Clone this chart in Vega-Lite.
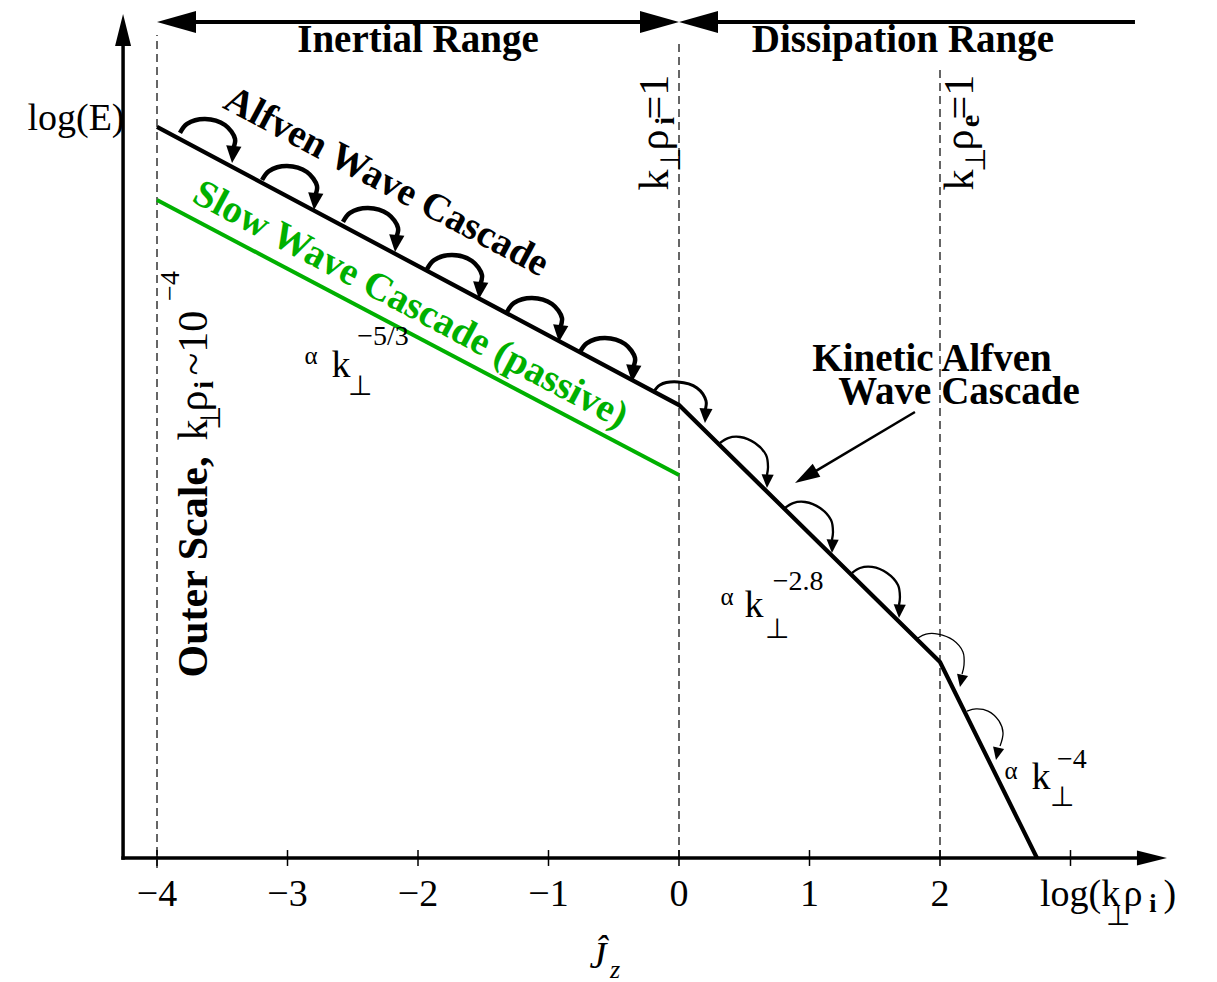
{
  "$schema": "https://vega.github.io/schema/vega-lite/v6.json",
  "width": 1217,
  "height": 982,
  "autosize": {"type": "none"},
  "padding": 0,
  "background": "white",
  "config": {"view": {"stroke": null}, "text": {"font": "Liberation Serif"}},
  "datasets": {
    "guides": [
      {"x": -4, "y": -0.077, "y2": 6.307},
      {"x": 0, "y": 0, "y2": 6.268},
      {"x": 2, "y": 0, "y2": 6.038}
    ],
    "slow": [{"x": -4, "y": 5.042}, {"x": 0, "y": 2.935}],
    "spectrum": [
      {"x": -4, "y": 5.602},
      {"x": 0, "y": 3.471},
      {"x": 2, "y": 1.502},
      {"x": 2.743, "y": 0}
    ],
    "axes": [
      {"axis": "x", "x": -4.26, "y": 0, "x2": 3.55, "y2": 0},
      {"axis": "y", "x": -4.26, "y": 0, "x2": -4.26, "y2": 6.23}
    ],
    "ticks": [
      {"x": -4, "y": -0.061, "y2": 0.061},
      {"x": -3, "y": -0.061, "y2": 0.061},
      {"x": -2, "y": -0.061, "y2": 0.061},
      {"x": -1, "y": -0.061, "y2": 0.061},
      {"x": 0, "y": -0.061, "y2": 0.061},
      {"x": 1, "y": -0.061, "y2": 0.061},
      {"x": 2, "y": -0.061, "y2": 0.061},
      {"x": 3, "y": -0.061, "y2": 0.061}
    ],
    "tickLabels": [
      {"x": -4, "y": -0.37, "label": "−4"},
      {"x": -3, "y": -0.37, "label": "−3"},
      {"x": -2, "y": -0.37, "label": "−2"},
      {"x": -1, "y": -0.37, "label": "−1"},
      {"x": 0, "y": -0.37, "label": "0"},
      {"x": 1, "y": -0.37, "label": "1"},
      {"x": 2, "y": -0.37, "label": "2"}
    ],
    "ranges": [
      {"name": "Inertial Range", "x": -3.9, "x2": -0.1, "y": 6.406},
      {"name": "Dissipation Range", "x": 0.1, "x2": 3.494, "y": 6.406}
    ],
    "rangeHeads": [
      {"x": -4, "y": 6.406, "points": "left"},
      {"x": 0, "y": 6.406, "points": "right"},
      {"x": 0, "y": 6.406, "points": "left"}
    ],
    "axisHeads": [
      {"axis": "x", "x": 3.739, "y": 0},
      {"axis": "y", "x": -4.26, "y": 6.467}
    ],
    "cascade": [
      {"arc": 1, "stage": "inertial", "i": 0, "x": -3.824, "y": 5.556},
      {"arc": 1, "stage": "inertial", "i": 1, "x": -3.770, "y": 5.625},
      {"arc": 1, "stage": "inertial", "i": 2, "x": -3.632, "y": 5.663},
      {"arc": 1, "stage": "inertial", "i": 3, "x": -3.479, "y": 5.617},
      {"arc": 1, "stage": "inertial", "i": 4, "x": -3.402, "y": 5.510},
      {"arc": 1, "stage": "inertial", "i": 5, "x": -3.418, "y": 5.433},
      {"arc": 2, "stage": "inertial", "i": 0, "x": -3.195, "y": 5.195},
      {"arc": 2, "stage": "inertial", "i": 1, "x": -3.142, "y": 5.264},
      {"arc": 2, "stage": "inertial", "i": 2, "x": -3.004, "y": 5.303},
      {"arc": 2, "stage": "inertial", "i": 3, "x": -2.851, "y": 5.257},
      {"arc": 2, "stage": "inertial", "i": 4, "x": -2.774, "y": 5.149},
      {"arc": 2, "stage": "inertial", "i": 5, "x": -2.789, "y": 5.073},
      {"arc": 3, "stage": "inertial", "i": 0, "x": -2.575, "y": 4.874},
      {"arc": 3, "stage": "inertial", "i": 1, "x": -2.521, "y": 4.943},
      {"arc": 3, "stage": "inertial", "i": 2, "x": -2.383, "y": 4.981},
      {"arc": 3, "stage": "inertial", "i": 3, "x": -2.230, "y": 4.935},
      {"arc": 3, "stage": "inertial", "i": 4, "x": -2.153, "y": 4.828},
      {"arc": 3, "stage": "inertial", "i": 5, "x": -2.169, "y": 4.751},
      {"arc": 4, "stage": "inertial", "i": 0, "x": -1.931, "y": 4.513},
      {"arc": 4, "stage": "inertial", "i": 1, "x": -1.877, "y": 4.582},
      {"arc": 4, "stage": "inertial", "i": 2, "x": -1.739, "y": 4.621},
      {"arc": 4, "stage": "inertial", "i": 3, "x": -1.586, "y": 4.575},
      {"arc": 4, "stage": "inertial", "i": 4, "x": -1.510, "y": 4.467},
      {"arc": 4, "stage": "inertial", "i": 5, "x": -1.525, "y": 4.391},
      {"arc": 5, "stage": "inertial", "i": 0, "x": -1.318, "y": 4.184},
      {"arc": 5, "stage": "inertial", "i": 1, "x": -1.264, "y": 4.253},
      {"arc": 5, "stage": "inertial", "i": 2, "x": -1.126, "y": 4.291},
      {"arc": 5, "stage": "inertial", "i": 3, "x": -0.973, "y": 4.245},
      {"arc": 5, "stage": "inertial", "i": 4, "x": -0.897, "y": 4.138},
      {"arc": 5, "stage": "inertial", "i": 5, "x": -0.912, "y": 4.061},
      {"arc": 6, "stage": "inertial", "i": 0, "x": -0.759, "y": 3.877},
      {"arc": 6, "stage": "inertial", "i": 1, "x": -0.705, "y": 3.946},
      {"arc": 6, "stage": "inertial", "i": 2, "x": -0.567, "y": 3.985},
      {"arc": 6, "stage": "inertial", "i": 3, "x": -0.414, "y": 3.939},
      {"arc": 6, "stage": "inertial", "i": 4, "x": -0.337, "y": 3.831},
      {"arc": 6, "stage": "inertial", "i": 5, "x": -0.353, "y": 3.755},
      {"arc": 7, "stage": "crossover", "i": 0, "x": -0.199, "y": 3.563},
      {"arc": 7, "stage": "crossover", "i": 1, "x": -0.146, "y": 3.625},
      {"arc": 7, "stage": "crossover", "i": 2, "x": -0.008, "y": 3.648},
      {"arc": 7, "stage": "crossover", "i": 3, "x": 0.138, "y": 3.602},
      {"arc": 7, "stage": "crossover", "i": 4, "x": 0.207, "y": 3.502},
      {"arc": 7, "stage": "crossover", "i": 5, "x": 0.199, "y": 3.425},
      {"arc": 8, "stage": "kinetic", "i": 0, "x": 0.314, "y": 3.180},
      {"arc": 8, "stage": "kinetic", "i": 1, "x": 0.376, "y": 3.218},
      {"arc": 8, "stage": "kinetic", "i": 2, "x": 0.468, "y": 3.226},
      {"arc": 8, "stage": "kinetic", "i": 3, "x": 0.582, "y": 3.180},
      {"arc": 8, "stage": "kinetic", "i": 4, "x": 0.667, "y": 3.088},
      {"arc": 8, "stage": "kinetic", "i": 5, "x": 0.682, "y": 2.996},
      {"arc": 8, "stage": "kinetic", "i": 6, "x": 0.674, "y": 2.935},
      {"arc": 9, "stage": "kinetic", "i": 0, "x": 0.812, "y": 2.682},
      {"arc": 9, "stage": "kinetic", "i": 1, "x": 0.874, "y": 2.720},
      {"arc": 9, "stage": "kinetic", "i": 2, "x": 0.966, "y": 2.728},
      {"arc": 9, "stage": "kinetic", "i": 3, "x": 1.081, "y": 2.682},
      {"arc": 9, "stage": "kinetic", "i": 4, "x": 1.165, "y": 2.590},
      {"arc": 9, "stage": "kinetic", "i": 5, "x": 1.180, "y": 2.498},
      {"arc": 9, "stage": "kinetic", "i": 6, "x": 1.172, "y": 2.437},
      {"arc": 10, "stage": "kinetic", "i": 0, "x": 1.326, "y": 2.184},
      {"arc": 10, "stage": "kinetic", "i": 1, "x": 1.387, "y": 2.222},
      {"arc": 10, "stage": "kinetic", "i": 2, "x": 1.479, "y": 2.230},
      {"arc": 10, "stage": "kinetic", "i": 3, "x": 1.594, "y": 2.184},
      {"arc": 10, "stage": "kinetic", "i": 4, "x": 1.678, "y": 2.092},
      {"arc": 10, "stage": "kinetic", "i": 5, "x": 1.693, "y": 2.000},
      {"arc": 10, "stage": "kinetic", "i": 6, "x": 1.686, "y": 1.939},
      {"arc": 11, "stage": "electron", "i": 0, "x": 1.831, "y": 1.686},
      {"arc": 11, "stage": "electron", "i": 1, "x": 1.893, "y": 1.716},
      {"arc": 11, "stage": "electron", "i": 2, "x": 1.985, "y": 1.716},
      {"arc": 11, "stage": "electron", "i": 3, "x": 2.100, "y": 1.670},
      {"arc": 11, "stage": "electron", "i": 4, "x": 2.176, "y": 1.579},
      {"arc": 11, "stage": "electron", "i": 5, "x": 2.184, "y": 1.479},
      {"arc": 11, "stage": "electron", "i": 6, "x": 2.169, "y": 1.410},
      {"arc": 12, "stage": "electron", "i": 0, "x": 2.207, "y": 1.126},
      {"arc": 12, "stage": "electron", "i": 1, "x": 2.276, "y": 1.142},
      {"arc": 12, "stage": "electron", "i": 2, "x": 2.368, "y": 1.126},
      {"arc": 12, "stage": "electron", "i": 3, "x": 2.452, "y": 1.050},
      {"arc": 12, "stage": "electron", "i": 4, "x": 2.483, "y": 0.958},
      {"arc": 12, "stage": "electron", "i": 5, "x": 2.460, "y": 0.858}
    ],
    "cascadeTips": [
      {"arc": 1, "stage": "inertial", "x": -3.425, "y": 5.326},
      {"arc": 2, "stage": "inertial", "x": -2.797, "y": 4.966},
      {"arc": 3, "stage": "inertial", "x": -2.176, "y": 4.644},
      {"arc": 4, "stage": "inertial", "x": -1.533, "y": 4.284},
      {"arc": 5, "stage": "inertial", "x": -0.920, "y": 3.954},
      {"arc": 6, "stage": "inertial", "x": -0.360, "y": 3.648},
      {"arc": 7, "stage": "crossover", "x": 0.199, "y": 3.333},
      {"arc": 8, "stage": "kinetic", "x": 0.674, "y": 2.835},
      {"arc": 9, "stage": "kinetic", "x": 1.172, "y": 2.337},
      {"arc": 10, "stage": "kinetic", "x": 1.686, "y": 1.839},
      {"arc": 11, "stage": "electron", "x": 2.153, "y": 1.310},
      {"arc": 12, "stage": "electron", "x": 2.429, "y": 0.751}
    ],
    "pointer": [{"x": 1.808, "y": 3.418}, {"x": 1.050, "y": 2.966}],
    "pointerHead": [{"x": 0.889, "y": 2.874}],
    "labels": [
      {"text": "log(E)", "x": -4.621, "y": 5.579, "role": "main"},
      {"text": "log(k", "x": 3.073, "y": -0.37, "role": "main"},
      {"text": "⊥", "x": 3.364, "y": -0.513, "role": "script"},
      {"text": "ρ", "x": 3.479, "y": -0.37, "role": "main"},
      {"text": ")", "x": 3.762, "y": -0.37, "role": "main"},
      {"text": "α", "x": -2.820, "y": 3.785, "role": "small"},
      {"text": "k", "x": -2.590, "y": 3.686, "role": "main"},
      {"text": "−5/3", "x": -2.268, "y": 3.931, "role": "script"},
      {"text": "⊥", "x": -2.444, "y": 3.548, "role": "script"},
      {"text": "α", "x": 0.368, "y": 1.939, "role": "small"},
      {"text": "k", "x": 0.575, "y": 1.847, "role": "main"},
      {"text": "−2.8", "x": 0.912, "y": 2.054, "role": "script"},
      {"text": "⊥", "x": 0.751, "y": 1.686, "role": "script"},
      {"text": "α", "x": 2.544, "y": 0.605, "role": "small"},
      {"text": "k", "x": 2.774, "y": 0.529, "role": "main"},
      {"text": "−4", "x": 3.011, "y": 0.690, "role": "script"},
      {"text": "⊥", "x": 2.935, "y": 0.398, "role": "script"}
    ],
    "italicLabels": [
      {"text": "Ĵ", "x": -0.621, "y": -0.843, "role": "main"},
      {"text": "z", "x": -0.490, "y": -0.920, "role": "script"}
    ],
    "boldLabels": [
      {"text": "Inertial Range", "x": -2.0, "y": 6.176, "role": "main"},
      {"text": "Dissipation Range", "x": 1.716, "y": 6.176, "role": "main"},
      {"text": "Kinetic Alfven", "x": 1.939, "y": 3.732, "role": "main"},
      {"text": "Wave Cascade", "x": 2.146, "y": 3.479, "role": "main"},
      {"text": "i", "x": 3.632, "y": -0.414, "role": "script"}
    ],
    "cascadeNames": [
      {"text": "Alfven Wave Cascade", "x": -2.284, "y": 5.103, "wave": "Alfven"},
      {"text": "Slow Wave Cascade (passive)", "x": -2.100, "y": 4.161, "wave": "slow"}
    ],
    "scaleLabels": [
      {"text": "k", "x": -0.084, "y": 5.195, "role": "main"},
      {"text": "⊥", "x": 0.008, "y": 5.349, "role": "script"},
      {"text": "ρ", "x": -0.084, "y": 5.502, "role": "main"},
      {"text": "=1", "x": -0.084, "y": 5.831, "role": "main"},
      {"text": "k", "x": 2.253, "y": 5.195, "role": "main"},
      {"text": "⊥", "x": 2.345, "y": 5.349, "role": "script"},
      {"text": "ρ", "x": 2.253, "y": 5.502, "role": "main"},
      {"text": "=1", "x": 2.253, "y": 5.831, "role": "main"},
      {"text": "k", "x": -3.617, "y": 3.280, "role": "main"},
      {"text": "⊥", "x": -3.517, "y": 3.372, "role": "script"},
      {"text": "ρ", "x": -3.617, "y": 3.502, "role": "main"},
      {"text": "~10", "x": -3.617, "y": 3.946, "role": "main"},
      {"text": "−4", "x": -3.831, "y": 4.383, "role": "script"}
    ],
    "scaleLabelsBold": [
      {"text": "i", "x": -0.038, "y": 5.648, "role": "script"},
      {"text": "e", "x": 2.299, "y": 5.648, "role": "script"},
      {"text": "i", "x": -3.571, "y": 3.625, "role": "script"},
      {"text": "Outer Scale,", "x": -3.617, "y": 2.230, "role": "main"}
    ]
  },
  "encoding": {
    "x": {"field": "x", "type": "quantitative", "scale": {"domain": [-5.2031, 4.1226], "nice": false, "zero": false}, "axis": null},
    "y": {"field": "y", "type": "quantitative", "scale": {"domain": [-0.9502, 6.5747], "nice": false, "zero": false}, "axis": null}
  },
  "layer": [
    {
      "data": {"name": "guides"},
      "mark": {"type": "rule", "strokeDash": [8, 5], "strokeWidth": 1.2, "color": "black"},
      "encoding": {"y2": {"field": "y2"}}
    },
    {
      "data": {"name": "slow"},
      "mark": {"type": "line", "color": "#00b000", "strokeWidth": 4, "strokeCap": "butt"},
      "encoding": {}
    },
    {
      "data": {"name": "spectrum"},
      "mark": {"type": "line", "color": "black", "strokeWidth": 4.2, "strokeCap": "butt", "strokeJoin": "miter"},
      "encoding": {}
    },
    {
      "data": {"name": "axes"},
      "mark": {"type": "rule", "color": "black", "strokeWidth": 3.5, "strokeCap": "square"},
      "encoding": {"x2": {"field": "x2"}, "y2": {"field": "y2"}}
    },
    {
      "data": {"name": "ticks"},
      "mark": {"type": "rule", "color": "black", "strokeWidth": 1.5},
      "encoding": {"y2": {"field": "y2"}}
    },
    {
      "data": {"name": "tickLabels"},
      "mark": {"type": "text", "fontSize": 38, "align": "center", "baseline": "alphabetic", "color": "black"},
      "encoding": {"text": {"field": "label"}}
    },
    {
      "data": {"name": "ranges"},
      "mark": {"type": "rule", "color": "black", "strokeWidth": 4, "strokeCap": "butt"},
      "encoding": {"x2": {"field": "x2"}}
    },
    {
      "data": {"name": "rangeHeads"},
      "transform": [{"filter": "datum.points == 'left'"}],
      "mark": {"type": "point", "shape": "M0,0L-0.28,-1L0.28,-1Z", "filled": true, "color": "black", "opacity": 1, "size": 6084, "angle": 90, "strokeWidth": 0}
    },
    {
      "data": {"name": "rangeHeads"},
      "transform": [{"filter": "datum.points == 'right'"}],
      "mark": {"type": "point", "shape": "M0,0L-0.28,-1L0.28,-1Z", "filled": true, "color": "black", "opacity": 1, "size": 6084, "angle": 270, "strokeWidth": 0}
    },
    {
      "data": {"name": "axisHeads"},
      "transform": [{"filter": "datum.axis == 'x'"}],
      "mark": {"type": "point", "shape": "M0,0L-0.25,-1L0.25,-1Z", "filled": true, "color": "black", "opacity": 1, "size": 3600, "angle": 270, "strokeWidth": 0}
    },
    {
      "data": {"name": "axisHeads"},
      "transform": [{"filter": "datum.axis == 'y'"}],
      "mark": {"type": "point", "shape": "M0,0L-0.25,-1L0.25,-1Z", "filled": true, "color": "black", "opacity": 1, "size": 4096, "angle": 180, "strokeWidth": 0}
    },
    {
      "data": {"name": "cascade"},
      "transform": [{"filter": "datum.stage == 'inertial'"}],
      "mark": {"type": "line", "color": "black", "interpolate": "catmull-rom", "strokeCap": "butt", "strokeWidth": 4.5},
      "encoding": {"detail": {"field": "arc", "type": "nominal"}, "order": {"field": "i", "type": "quantitative"}}
    },
    {
      "data": {"name": "cascade"},
      "transform": [{"filter": "datum.stage == 'crossover'"}],
      "mark": {"type": "line", "color": "black", "interpolate": "catmull-rom", "strokeCap": "butt", "strokeWidth": 3},
      "encoding": {"detail": {"field": "arc", "type": "nominal"}, "order": {"field": "i", "type": "quantitative"}}
    },
    {
      "data": {"name": "cascade"},
      "transform": [{"filter": "datum.stage == 'kinetic'"}],
      "mark": {"type": "line", "color": "black", "interpolate": "catmull-rom", "strokeCap": "butt", "strokeWidth": 2.3},
      "encoding": {"detail": {"field": "arc", "type": "nominal"}, "order": {"field": "i", "type": "quantitative"}}
    },
    {
      "data": {"name": "cascade"},
      "transform": [{"filter": "datum.stage == 'electron'"}],
      "mark": {"type": "line", "color": "black", "interpolate": "catmull-rom", "strokeCap": "butt", "strokeWidth": 1.3},
      "encoding": {"detail": {"field": "arc", "type": "nominal"}, "order": {"field": "i", "type": "quantitative"}}
    },
    {
      "data": {"name": "cascadeTips"},
      "transform": [{"filter": "datum.stage == 'inertial'"}],
      "mark": {"type": "point", "shape": "M0,0L-0.45,-1L0.45,-1Z", "filled": true, "color": "black", "opacity": 1, "angle": 6, "size": 1156, "strokeWidth": 0}
    },
    {
      "data": {"name": "cascadeTips"},
      "transform": [{"filter": "datum.stage == 'crossover'"}],
      "mark": {"type": "point", "shape": "M0,0L-0.45,-1L0.45,-1Z", "filled": true, "color": "black", "opacity": 1, "angle": 4, "size": 841, "strokeWidth": 0}
    },
    {
      "data": {"name": "cascadeTips"},
      "transform": [{"filter": "datum.stage == 'kinetic'"}],
      "mark": {"type": "point", "shape": "M0,0L-0.45,-1L0.45,-1Z", "filled": true, "color": "black", "opacity": 1, "angle": 3, "size": 729, "strokeWidth": 0}
    },
    {
      "data": {"name": "cascadeTips"},
      "transform": [{"filter": "datum.stage == 'electron'"}],
      "mark": {"type": "point", "shape": "M0,0L-0.45,-1L0.45,-1Z", "filled": true, "color": "black", "opacity": 1, "angle": 12, "size": 625, "strokeWidth": 0}
    },
    {
      "data": {"name": "pointer"},
      "mark": {"type": "line", "color": "black", "strokeWidth": 2.5, "strokeCap": "butt"},
      "encoding": {}
    },
    {
      "data": {"name": "pointerHead"},
      "mark": {"type": "point", "shape": "M0,0L-0.3,-1L0.3,-1Z", "filled": true, "color": "black", "opacity": 1, "size": 2500, "angle": 59.4, "strokeWidth": 0}
    },
    {
      "data": {"name": "labels"},
      "transform": [{"filter": "datum.role == 'main'"}],
      "mark": {"type": "text", "align": "center", "baseline": "alphabetic", "color": "black", "fontSize": 38},
      "encoding": {"text": {"field": "text"}}
    },
    {
      "data": {"name": "labels"},
      "transform": [{"filter": "datum.role == 'script'"}],
      "mark": {"type": "text", "align": "center", "baseline": "alphabetic", "color": "black", "fontSize": 28},
      "encoding": {"text": {"field": "text"}}
    },
    {
      "data": {"name": "labels"},
      "transform": [{"filter": "datum.role == 'small'"}],
      "mark": {"type": "text", "align": "center", "baseline": "alphabetic", "color": "black", "fontSize": 25},
      "encoding": {"text": {"field": "text"}}
    },
    {
      "data": {"name": "italicLabels"},
      "transform": [{"filter": "datum.role == 'main'"}],
      "mark": {"type": "text", "align": "center", "baseline": "alphabetic", "fontStyle": "italic", "color": "black", "fontSize": 38},
      "encoding": {"text": {"field": "text"}}
    },
    {
      "data": {"name": "italicLabels"},
      "transform": [{"filter": "datum.role == 'script'"}],
      "mark": {"type": "text", "align": "center", "baseline": "alphabetic", "fontStyle": "italic", "color": "black", "fontSize": 26},
      "encoding": {"text": {"field": "text"}}
    },
    {
      "data": {"name": "boldLabels"},
      "transform": [{"filter": "datum.role == 'main'"}],
      "mark": {"type": "text", "align": "center", "baseline": "alphabetic", "fontWeight": "bold", "color": "black", "fontSize": 39},
      "encoding": {"text": {"field": "text"}}
    },
    {
      "data": {"name": "boldLabels"},
      "transform": [{"filter": "datum.role == 'script'"}],
      "mark": {"type": "text", "align": "center", "baseline": "alphabetic", "fontWeight": "bold", "color": "black", "fontSize": 26},
      "encoding": {"text": {"field": "text"}}
    },
    {
      "data": {"name": "cascadeNames"},
      "mark": {"type": "text", "align": "center", "baseline": "alphabetic", "fontWeight": "bold", "fontSize": 39, "angle": 28},
      "encoding": {
        "text": {"field": "text"},
        "color": {"field": "wave", "type": "nominal", "scale": {"domain": ["Alfven", "slow"], "range": ["black", "#00b000"]}, "legend": null}
      }
    },
    {
      "data": {"name": "scaleLabels"},
      "transform": [{"filter": "datum.role == 'main'"}],
      "mark": {"type": "text", "align": "center", "baseline": "alphabetic", "angle": 270, "color": "black", "fontSize": 42},
      "encoding": {"text": {"field": "text"}}
    },
    {
      "data": {"name": "scaleLabels"},
      "transform": [{"filter": "datum.role == 'script'"}],
      "mark": {"type": "text", "align": "center", "baseline": "alphabetic", "angle": 270, "color": "black", "fontSize": 28},
      "encoding": {"text": {"field": "text"}}
    },
    {
      "data": {"name": "scaleLabelsBold"},
      "transform": [{"filter": "datum.role == 'main'"}],
      "mark": {"type": "text", "align": "center", "baseline": "alphabetic", "angle": 270, "fontWeight": "bold", "color": "black", "fontSize": 42},
      "encoding": {"text": {"field": "text"}}
    },
    {
      "data": {"name": "scaleLabelsBold"},
      "transform": [{"filter": "datum.role == 'script'"}],
      "mark": {"type": "text", "align": "center", "baseline": "alphabetic", "angle": 270, "fontWeight": "bold", "color": "black", "fontSize": 28},
      "encoding": {"text": {"field": "text"}}
    }
  ]
}
